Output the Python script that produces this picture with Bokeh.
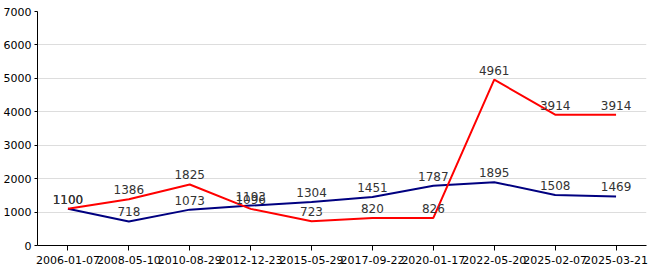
from bokeh.plotting import figure
from bokeh.models import ColumnDataSource, FactorRange, Range1d, FixedTicker, LabelSet
from bokeh.core.properties import value
from bokeh.embed import file_html
from bokeh.resources import INLINE

dates = ["2006-01-07", "2008-05-10", "2010-08-29", "2012-12-23", "2015-05-29",
         "2017-09-22", "2020-01-17", "2022-05-20", "2025-02-07", "2025-03-21"]
red_vals = [1100, 1386, 1825, 1096, 723, 820, 826, 4961, 3914, 3914]
navy_vals = [1100, 718, 1073, 1193, 1304, 1451, 1787, 1895, 1508, 1469]
y_ticks = [0, 1000, 2000, 3000, 4000, 5000, 6000, 7000]

p = figure(width=653, height=270, output_backend="svg", toolbar_location=None,
           x_range=FactorRange(factors=dates, range_padding=0),
           y_range=Range1d(0, 7000),
           min_border_left=36, min_border_right=7, min_border_top=11, min_border_bottom=25)
p.outline_line_color = None
p.background_fill_color = "white"
p.xgrid.grid_line_color = None
p.ygrid.grid_line_color = "#dddddd"
p.yaxis.ticker = FixedTicker(ticks=y_ticks)
for ax in (p.xaxis, p.yaxis):
    ax.axis_line_color = "black"
    ax.major_tick_line_color = "black"
    ax.minor_tick_line_color = None
    ax.major_label_text_font = "DejaVu Sans"
    ax.major_label_text_color = "black"
    ax.major_label_text_font_size = "11px"
p.xaxis.major_tick_in = 0
p.xaxis.major_tick_out = 5
p.yaxis.major_tick_in = 0
p.yaxis.major_tick_out = 3
p.xaxis.major_label_standoff = 5
p.yaxis.major_label_standoff = 3

src_n = ColumnDataSource(dict(x=dates, y=navy_vals, t=[str(v) for v in navy_vals]))
src_r = ColumnDataSource(dict(x=dates, y=red_vals, t=[str(v) for v in red_vals]))

p.line("x", "y", source=src_n, line_color="#000080", line_width=2)
p.line("x", "y", source=src_r, line_color="#ff0000", line_width=2)

for src in (src_n, src_r):
    p.add_layout(LabelSet(x="x", y="y", text="t", source=src, y_offset=5,
                          text_align="center", text_baseline="bottom",
                          text_font=value("DejaVu Sans"), text_font_size="12px",
                          text_color="#333333"))

open("out.html", "w").write(file_html(p, INLINE))
